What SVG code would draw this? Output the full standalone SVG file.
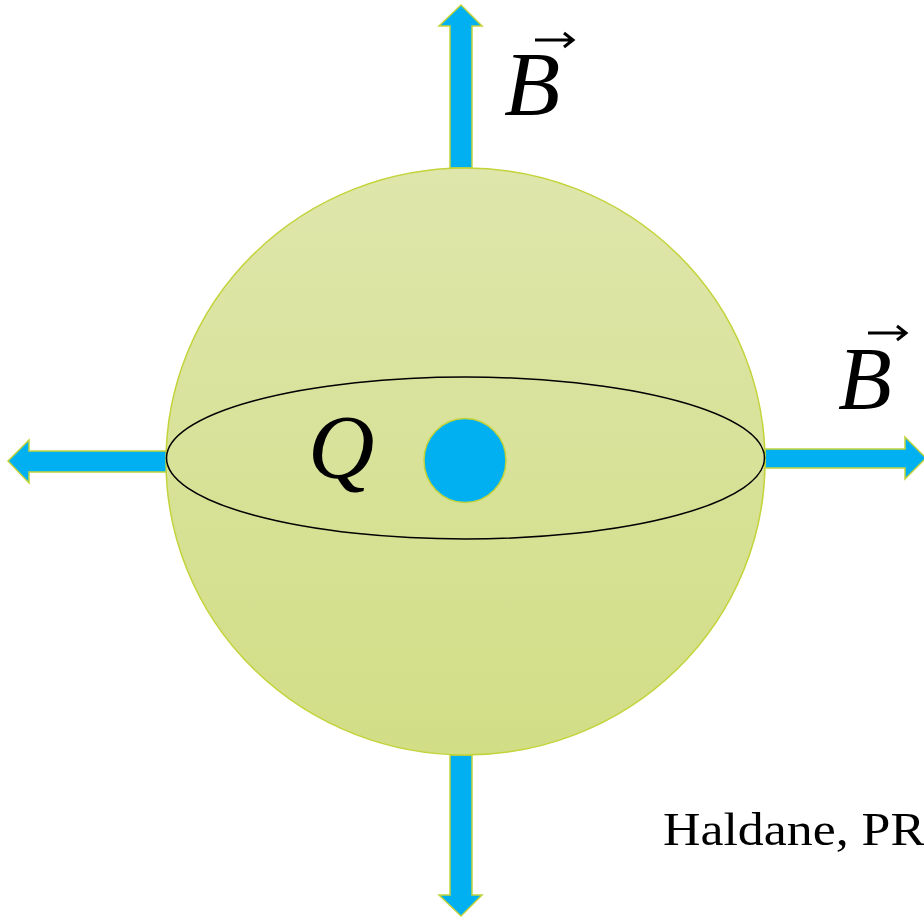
<svg xmlns="http://www.w3.org/2000/svg" width="924" height="918" viewBox="0 0 924 918">
<defs>
<linearGradient id="sph" x1="0" y1="0" x2="0" y2="1">
<stop offset="0" stop-color="#dee6ab"/>
<stop offset="1" stop-color="#d2de86"/>
</linearGradient>
<style>
.arrow{fill:#00b0f0;stroke:#c3d33a;stroke-width:1.5}
.math{font-family:"Liberation Serif","DejaVu Serif",serif;font-style:italic;fill:#000}
.vec{fill:none;stroke:#000;stroke-width:3}
.cite{font-family:"Liberation Serif","DejaVu Serif",serif;font-size:46px;fill:#000}
</style>
</defs>
<rect width="924" height="918" fill="#ffffff"/>
<g id="connectors">
<polygon class="arrow" points="450,168 450,26 439,26 461,5 482,26 472,26 472,168"/>
<polygon class="arrow" points="168,451 29,451 29,440 8,461 29,483 29,472 168,472"/>
<polygon class="arrow" points="765,449 905,449 905,437 926,458 905,479 905,468 765,468"/>
<polygon class="arrow" points="450,755 450,895 439,895 461,916 482,895 472,895 472,755"/>
</g>
<g id="sphere">
<ellipse cx="465.5" cy="461.5" rx="299.5" ry="293.5" fill="url(#sph)" stroke="#c3d33a" stroke-width="1.5"/>
<ellipse cx="465.5" cy="458" rx="299" ry="81" fill="none" stroke="#000" stroke-width="1.5"/>
</g>
<g id="charge">
<ellipse cx="465" cy="460.5" rx="41" ry="42" fill="#00b0f0" stroke="#c3d33a" stroke-width="1.5"/>
<text class="math" x="308" y="478" font-size="92">Q</text>
</g>
<g id="label-B-top">
<text class="math" x="504" y="115" font-size="92">B</text>
<path class="vec" d="M535,40 H572 M564,33 L573,40 L564,47"/>
</g>
<g id="label-B-right">
<text class="math" x="838" y="408" font-size="88">B</text>
<path class="vec" d="M868,333 H905 M897,326 L906,333 L897,340"/>
</g>
<g id="citation">
<text class="cite" x="663" y="845" textLength="262" lengthAdjust="spacingAndGlyphs">Haldane, PR</text>
</g>
</svg>
